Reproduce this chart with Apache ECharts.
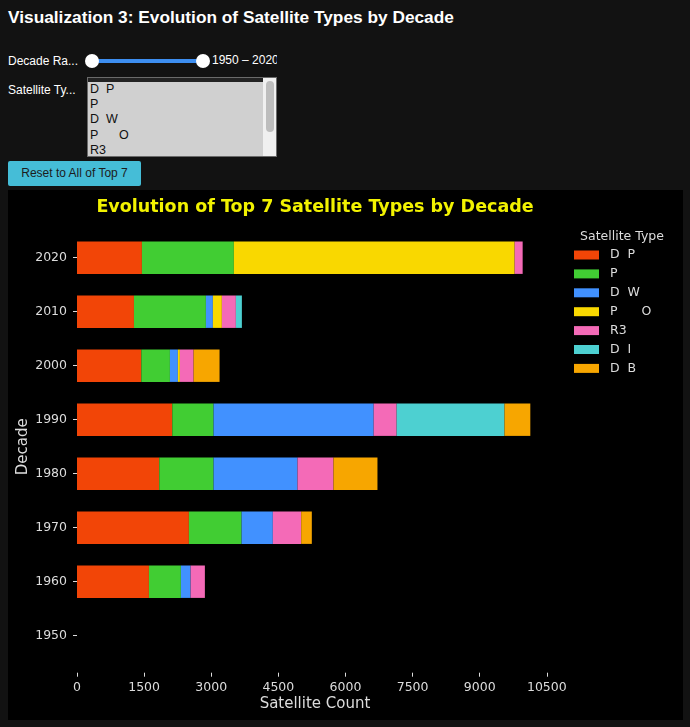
<!DOCTYPE html>
<html>
<head>
<meta charset="utf-8">
<script src="https://cdn.jsdelivr.net/npm/echarts@6/dist/echarts.min.js"></script>
<style>
  html, body { margin: 0; padding: 0; background: #121212; width: 690px; height: 727px; overflow: hidden; font-family: "Liberation Sans", Arial, sans-serif; }
  #hdr { position: absolute; left: 8px; top: 7px; color: #fff; font-weight: bold; font-size: 17.3px; white-space: nowrap; }
  .lbl { position: absolute; left: 8px; color: #fff; font-size: 12px; white-space: nowrap; }
  #track { position: absolute; left: 92px; top: 59px; width: 111px; height: 4px; background: #3d8ef0; }
  .knob { position: absolute; width: 14px; height: 14px; border-radius: 50%; background: #fff; top: 54px; }
  #range { position: absolute; left: 212px; top: 53px; width: 65px; overflow: hidden; white-space: nowrap; color: #fff; font-size: 12px; }
  #sel { position: absolute; left: 87px; top: 77px; width: 188px; height: 78px; background: #d0d0d0; border: 1px solid #6a6a6a; overflow: hidden; }
  #sel .strip { position: absolute; left: 0; top: 0; width: 175px; height: 4px; background: #222; }
  #sel .opt { position: absolute; left: 2px; color: #111; font-size: 12.5px; line-height: 14px; white-space: pre; }
  #sb { position: absolute; left: 175px; top: 0; width: 13px; height: 78px; background: #f0f0f0; }
  #thumb { position: absolute; left: 3px; top: 3px; width: 8px; height: 51px; background: #bdbdbd; border-radius: 4px; }
  #btn { position: absolute; left: 8px; top: 161px; width: 133px; height: 25px; background: #45bdd7; color: #1c1c1c; font-size: 12px; line-height: 25px; text-align: center; border-radius: 2px; }
  #chart { position: absolute; left: 8px; top: 190px; width: 675px; height: 530px; background: #000; }
</style>
</head>
<body>
<div id="hdr">Visualization 3: Evolution of Satellite Types by Decade</div>
<div class="lbl" style="top:54px">Decade Ra...</div>
<div id="track"></div>
<div class="knob" style="left:85px"></div>
<div class="knob" style="left:196px"></div>
<div id="range">1950 – 2020</div>
<div class="lbl" style="top:83px">Satellite Ty...</div>
<div id="sel">
  <div class="strip"></div>
  <div class="opt" style="top:4px">D  P</div>
  <div class="opt" style="top:19px">P</div>
  <div class="opt" style="top:34px">D  W</div>
  <div class="opt" style="top:50px">P      O</div>
  <div class="opt" style="top:65px">R3</div>
  <div id="sb"><div id="thumb"></div></div>
</div>
<div id="btn">Reset to All of Top 7</div>
<div id="chart"></div>
<script>
const decades = ['1950', '1960', '1970', '1980', '1990', '2000', '2010', '2020'];
const typeNames = ['D  P', 'P', 'D  W', 'P      O', 'R3', 'D  I', 'D  B'];
const typeColors = ['#f24507', '#41cd33', '#4191ff', '#f9d800', '#f46ab7', '#4dd0d1', '#f7a600'];
const countDP = [0, 1608, 2501, 1838, 2129, 1437, 1273, 1451];
const countP  = [0, 714, 1177, 1214, 923, 640, 1608, 2055];
const countDW = [0, 217, 699, 1876, 3578, 178, 156, 0];
const countPO = [0, 0, 0, 0, 0, 45, 201, 6275];
const countR3 = [0, 319, 633, 804, 514, 306, 313, 179];
const countDI = [0, 0, 0, 0, 2410, 0, 134, 0];
const countDB = [0, 0, 238, 983, 577, 580, 0, 0];
const xTicks = [0, 1500, 3000, 4500, 6000, 7500, 9000, 10500];

const seriesValues = [countDP, countP, countDW, countPO, countR3, countDI, countDB];
const FONT = 'DejaVu Sans';
const TXT = '#dcdcdc';

const chart = echarts.init(document.getElementById('chart'));
chart.setOption({
  backgroundColor: '#000',
  animation: false,
  graphic: [
    { type: 'text', x: 307, y: 17, style: { text: 'Evolution of Top 7 Satellite Types by Decade', fill: '#f2f200',
      font: 'bold 17.5px "DejaVu Sans"', textAlign: 'center', textVerticalAlign: 'middle' } },
    { type: 'text', x: 614, y: 47, style: { text: 'Satellite Type', fill: TXT,
      font: '12.5px "DejaVu Sans"', textAlign: 'center', textVerticalAlign: 'middle' } }
  ],
  legend: {
    orient: 'vertical', left: 566, top: 58, padding: 0, itemWidth: 25, itemHeight: 9, itemGap: 4.9,
    icon: 'rect',
    textStyle: { color: TXT, fontFamily: FONT, fontSize: 12.5, lineHeight: 14, padding: [0, 0, 0, 6] },
    data: typeNames
  },
  grid: { left: 69, top: 40.7, width: 476, height: 432, containLabel: false, outerBoundsMode: 'none' },
  xAxis: {
    type: 'value', min: 0, max: 10638, offset: 10,
    name: 'Satellite Count', nameLocation: 'middle', nameGap: 24, nameMoveOverlap: false,
    nameTextStyle: { color: TXT, fontFamily: FONT, fontSize: 15 },
    axisLine: { show: false },
    splitLine: { show: false },
    axisTick: { show: true, length: 4, customValues: xTicks, lineStyle: { color: TXT } },
    axisLabel: { customValues: xTicks, color: TXT, fontFamily: FONT, fontSize: 12.5, margin: 9,
      formatter: v => String(v) }
  },
  yAxis: {
    type: 'category', data: decades,
    name: 'Decade', nameLocation: 'middle', nameGap: 46, nameMoveOverlap: false,
    nameTextStyle: { color: TXT, fontFamily: FONT, fontSize: 15 },
    axisLine: { show: false },
    axisTick: { show: true, alignWithLabel: true, length: 4, lineStyle: { color: TXT } },
    axisLabel: { color: TXT, fontFamily: FONT, fontSize: 12.5, margin: 10 }
  },
  series: typeNames.map((n, i) => ({
    name: n, type: 'bar', stack: 'total', barWidth: '60%',
    itemStyle: { color: typeColors[i] },
    data: seriesValues[i]
  }))
});
</script>
</body>
</html>
